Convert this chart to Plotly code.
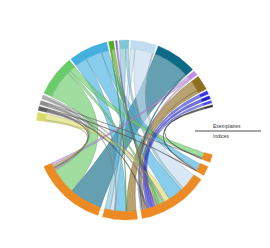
import numpy as np
import plotly.graph_objects as go

# ---------------- data ----------------
source_names = ["Jaune", "Gris foncé", "Gris", "Gris clair", "Vert", "Bleu", "Vert foncé",
                "Violet", "Turquoise", "Bleu pâle", "Bleu canard", "Mauve", "Bronze",
                "Bleu 1", "Bleu 2", "Bleu 3", "Noir"]
source_colors = ["#dcdc6c", "#5f5f5f", "#8e8e8e", "#b0b0b0", "#6acb6a", "#45b0e0", "#4caf1e",
                 "#9b59d0", "#7fc6d9", "#c2dcef", "#0d6a87", "#c08ee0", "#8f6f1e",
                 "#3535e6", "#2020d0", "#4a4ae8", "#3a3a3a"]
target_names = ["Cible 1", "Cible 2", "Cible 3", "Cible 4", "Cible 5"]
target_color = "#ec8b23"

# flows listed per target, in clockwise order along each target arc
flow_source = [
    # Cible 1
    "Vert", "Gris", "Noir",
    # Cible 2
    "Bleu", "Bleu pâle", "Noir", "Gris foncé",
    # Cible 3
    "Bleu pâle", "Turquoise", "Bleu", "Jaune", "Gris clair", "Vert", "Vert foncé", "Gris",
    "Violet", "Bleu 3", "Bleu 2", "Bleu 1", "Gris foncé", "Bronze", "Bleu canard", "Mauve",
    # Cible 4
    "Bronze", "Vert foncé", "Bleu", "Gris clair", "Bleu pâle", "Turquoise",
    # Cible 5
    "Bleu canard", "Vert", "Gris clair", "Gris", "Gris foncé", "Jaune", "Mauve",
]
flow_target = (["Cible 1"] * 3 + ["Cible 2"] * 4 + ["Cible 3"] * 16 +
               ["Cible 4"] * 6 + ["Cible 5"] * 7)
flow_value = [
    4.0, 0.5, 0.7,
    4.8, 0.6, 0.5, 0.5,
    12.0, 2.0, 11.0, 4.0, 1.2, 2.0, 2.5, 1.0, 1.0, 1.5, 2.0, 2.0, 1.0, 2.0, 1.0, 1.0,
    7.0, 0.5, 8.0, 0.5, 3.0, 4.0,
    24.0, 19.0, 0.8, 1.0, 1.0, 1.0, 2.0,
]

legend_top = "Exemplaires"
legend_bottom = "Indices"

# ---------------- layout geometry ----------------
R_OUT, R_IN = 90.0, 81.5
SRC_START, SRC_END, SRC_PAD = 174.0, 15.0, 1.2
TGT_START, TGT_END, TGT_PAD = -16.0, -156.0, 3.0

ns, nt = len(source_names), len(target_names)
s_idx = {n: i for i, n in enumerate(source_names)}
t_idx = {n: i for i, n in enumerate(target_names)}
flows = [(s_idx[s], t_idx[t], v, k) for k, (s, t, v) in enumerate(zip(flow_source, flow_target, flow_value))]

s_tot = np.zeros(ns)
t_tot = np.zeros(nt)
for s, t, v, k in flows:
    s_tot[s] += v
    t_tot[t] += v

s_scale = ((SRC_START - SRC_END) - SRC_PAD * (ns - 1)) / s_tot.sum()
t_scale = ((TGT_START - TGT_END) - TGT_PAD * (nt - 1)) / t_tot.sum()

# node arcs (clockwise: decreasing angle)
s_arc = []
a = SRC_START
for i in range(ns):
    s_arc.append((a, a - s_tot[i] * s_scale))
    a -= s_tot[i] * s_scale + SRC_PAD
t_arc = []
a = TGT_START
for j in range(nt):
    t_arc.append((a, a - t_tot[j] * t_scale))
    a -= t_tot[j] * t_scale + TGT_PAD

# sub-arcs on sources: ordered by target index descending
sub_s = {}
for i in range(ns):
    a = s_arc[i][0]
    for s, t, v, k in sorted([f for f in flows if f[0] == i], key=lambda f: (-f[1], f[3])):
        sub_s[k] = (a, a - v * s_scale)
        a -= v * s_scale
# sub-arcs on targets: listing order
sub_t = {}
for j in range(nt):
    a = t_arc[j][0]
    for s, t, v, k in [f for f in flows if f[1] == j]:
        sub_t[k] = (a, a - v * t_scale)
        a -= v * t_scale


def arc(a0, a1, r, n=40):
    th = np.radians(np.linspace(a0, a1, n))
    return list(r * np.cos(th)), list(r * np.sin(th))


def bez(p0, p2, n=40):
    t = np.linspace(0, 1, n)
    x = (1 - t) ** 2 * p0[0] + t ** 2 * p2[0]
    y = (1 - t) ** 2 * p0[1] + t ** 2 * p2[1]
    return list(x), list(y)


def pol(a, r):
    return (r * np.cos(np.radians(a)), r * np.sin(np.radians(a)))


def hex_rgba(h, al):
    h = h.lstrip("#")
    return "rgba(%d,%d,%d,%.2f)" % (int(h[0:2], 16), int(h[2:4], 16), int(h[4:6], 16), al)


def darker(h, f=0.6, al=0.8):
    h = h.lstrip("#")
    r, g, b = (int(h[i:i + 2], 16) * f for i in (0, 2, 4))
    return "rgba(%d,%d,%d,%.2f)" % (r, g, b, al)


fig = go.Figure()

# ribbons (largest first)
for s, t, v, k in sorted(flows, key=lambda f: -f[2]):
    s0, s1 = sub_s[k]
    t0, t1 = sub_t[k]
    r = R_IN
    x, y = arc(s0, s1, r)
    bx, by = bez(pol(s1, r), pol(t0, r))
    x += bx; y += by
    ax, ay = arc(t0, t1, r)
    x += ax; y += ay
    bx, by = bez(pol(t1, r), pol(s0, r))
    x += bx; y += by
    col = source_colors[s]
    fig.add_trace(go.Scatter(x=x, y=y, mode="lines", fill="toself",
                             fillcolor=hex_rgba(col, 0.64),
                             line=dict(color=darker(col, 0.6, 0.55), width=0.5),
                             hoverinfo="skip", showlegend=False))


def band(a0, a1, col):
    xo, yo = arc(a0, a1, R_OUT)
    xi, yi = arc(a1, a0, R_IN)
    fig.add_trace(go.Scatter(x=xo + xi + [xo[0]], y=yo + yi + [yo[0]], mode="lines",
                             fill="toself", fillcolor=col, line=dict(color=col, width=0.3),
                             hoverinfo="skip", showlegend=False))


for i in range(ns):
    band(s_arc[i][0], s_arc[i][1], source_colors[i])
for j in range(nt):
    band(t_arc[j][0], t_arc[j][1], target_color)

# legend-like labels
fig.add_shape(type="line", x0=69, x1=135, y0=-1, y1=-1, line=dict(color="#8a8a8a", width=1.5))
fig.add_annotation(x=85, y=4, text=legend_top, showarrow=False, xanchor="left", yanchor="middle",
                   font=dict(size=5, color="#333", family="Liberation Sans"))
fig.add_annotation(x=85, y=-6, text=legend_bottom, showarrow=False, xanchor="left", yanchor="middle",
                   font=dict(size=5, color="#333", family="Liberation Sans"))

fig.update_layout(width=270, height=248, autosize=False,
                  margin=dict(l=0, r=0, t=0, b=0),
                  paper_bgcolor="white", plot_bgcolor="white",
                  xaxis=dict(range=[-126, 144], visible=False, fixedrange=True),
                  yaxis=dict(range=[-118, 130], visible=False, fixedrange=True))

fig.write_html("out.html")
